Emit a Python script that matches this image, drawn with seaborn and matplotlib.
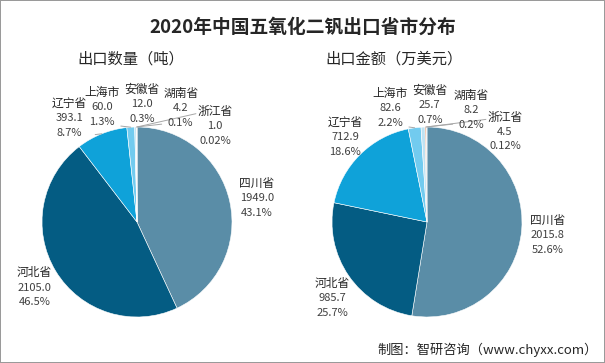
import numpy as np
import matplotlib
matplotlib.use("Agg")
import matplotlib.pyplot as plt
import seaborn as sns

sns.set_theme(style="white")
plt.rcParams['font.family'] = ['Noto Sans CJK SC', 'DejaVu Sans']

# 数据
provinces = ["四川省", "河北省", "辽宁省", "上海市", "安徽省", "湖南省", "浙江省"]
qty = [1949.0, 2105.0, 393.1, 60.0, 12.0, 4.2, 1.0]
qty_pct = ["43.1%", "46.5%", "8.7%", "1.3%", "0.3%", "0.1%", "0.02%"]
amount = [2015.8, 985.7, 712.9, 82.6, 25.7, 8.2, 4.5]
amount_pct = ["52.6%", "25.7%", "18.6%", "2.2%", "0.7%", "0.2%", "0.12%"]

colors = ["#5A8DA7", "#045C83", "#0FA2D9", "#72CBEF", "#BFE2F2", "#E8A07A", "#A6A6A6"]

# 标签位置（以半径为单位）
pos_left = [(1.26, 0.25), (-1.08, -0.69), (-0.71, 1.09), (-0.37, 1.21),
            (0.05, 1.24), (0.46, 1.20), (0.82, 1.01)]
pos_right = [(1.27, -0.14), (-1.00, -0.80), (-0.86, 0.89), (-0.39, 1.20),
             (0.03, 1.23), (0.47, 1.18), (0.82, 0.95)]
# 引导线起点相对标签中心的偏移
leader_left = [None, None, (0.27, -0.17), (0.2, -0.2), None, (-0.2, -0.17), (-0.2, 0.13)]
leader_right = [None, None, None, (0.2, -0.2), None, (-0.2, -0.15), (-0.2, 0.13)]

fig = plt.figure(figsize=(6.05, 3.63), dpi=100, linewidth=1.2, edgecolor="#9A9A9A")
W, H = 605, 363


def pie_axes(cx, cy, r):
    return fig.add_axes([(cx - r) / W, (H - cy - r) / H, 2 * r / W, 2 * r / H])


def draw(ax, values, pcts, positions, leader, subtitle, sub_x):
    wedges, _ = ax.pie(values, colors=colors, startangle=90, counterclock=False,
                       wedgeprops=dict(edgecolor="white", linewidth=0.4))
    ax.set_xlim(-1, 1)
    ax.set_ylim(-1, 1)
    ax.set_aspect("equal")
    ax.patch.set_alpha(0)
    for i, w in enumerate(wedges):
        tx, ty = positions[i]
        ax.text(tx, ty + 0.155, provinces[i], ha="center", va="center",
                fontsize=8.5, color="#262626")
        ax.text(tx, ty, f"{values[i]:.1f}", ha="center", va="center",
                fontsize=8, color="#404040")
        ax.text(tx, ty - 0.155, pcts[i], ha="center", va="center",
                fontsize=8, color="#404040")
        if leader[i] is not None:
            ang = np.deg2rad((w.theta1 + w.theta2) / 2)
            ex, ey = np.cos(ang), np.sin(ang)
            sx, sy = tx + leader[i][0], ty + leader[i][1]
            ax.plot([ex, sx], [ey, sy], color="#A6A6A6", lw=0.7, clip_on=False)
    fig.text(sub_x / W, 1 - 59 / H, subtitle, ha="left", va="center",
             fontsize=11, color="#262626")


ax1 = pie_axes(137, 222, 95)
draw(ax1, qty, qty_pct, pos_left, leader_left, "出口数量（吨）", 77)
ax2 = pie_axes(427, 222, 95)
draw(ax2, amount, amount_pct, pos_right, leader_right, "出口金额（万美元）", 325)

fig.text(0.5, 1 - 27 / H, "2020年中国五氧化二钒出口省市分布", ha="center", va="center",
         fontsize=13.5, fontweight="bold", color="#262626")
fig.text(598 / W, 1 - 350 / H, "制图：智研咨询（www.chyxx.com）", ha="right", va="center",
         fontsize=9.5, color="#262626")

fig.savefig("out.png", dpi=100, edgecolor=fig.get_edgecolor())
